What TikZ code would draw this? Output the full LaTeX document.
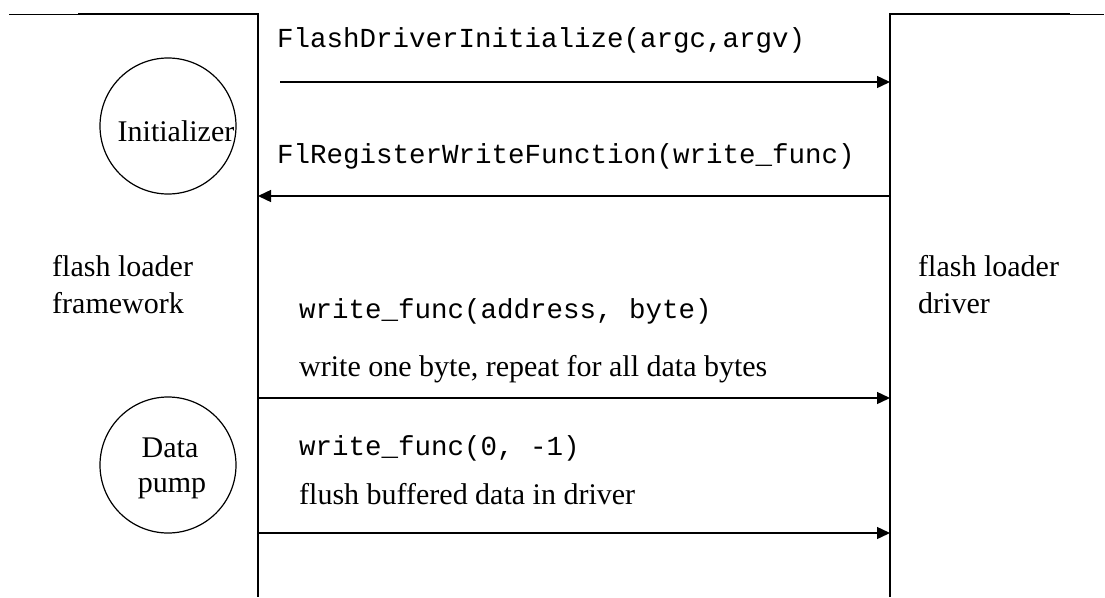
\documentclass[tikz,border=0pt]{standalone}
\usepackage{fontspec}
\setmainfont{Liberation Serif}
\setmonofont{Liberation Mono}
\usetikzlibrary{arrows.meta}

\tikzset{
  msg/.style={-{Triangle[length=13pt,width=12pt]}, line width=1.4pt},
  life/.style={line width=1.5pt},
  rim/.style={line width=0.9pt},
  call/.style={anchor=base west, inner sep=0pt, font=\fontsize{27.5}{30}\selectfont\ttfamily},
  note/.style={anchor=base west, inner sep=0pt, font=\fontsize{30}{37}\selectfont},
  role/.style={circle, draw, line width=1.2pt, minimum size=136pt, inner sep=0pt},
}

\begin{document}
\begin{tikzpicture}[x=1pt,y=-1pt]
    \useasboundingbox (0,0) rectangle (1105,597);

    % Define the two sides
    \draw[rim] (9,14) -- (78,14);
    \draw[life] (78,14) -- (258,14) -- (258,597);
    \draw[life] (890,597) -- (890,14) -- (1070,14);
    \draw[rim] (1070,14) -- (1104,14);

    \node[note] (fw1) at (52,276) {flash loader};
    \node[note] (fw2) at (52,313) {framework};
    \node[note] (drv1) at (918,276) {flash loader};
    \node[note] (drv2) at (918,313) {driver};

    % Define the circles
    \node[role] (init) at (168,126) {};
    \node[note, anchor=base] (initlbl) at (176,141) {Initializer};
    \node[role] (pump) at (168,465) {};
    \node[note, anchor=base] (pump1) at (170,457) {Data};
    \node[note, anchor=base] (pump2) at (172,492) {pump};

    % Define the end points of the messages
    \coordinate (m1s) at (280,82);   \coordinate (m1e) at (890,82);
    \coordinate (m2s) at (890,196);  \coordinate (m2e) at (258,196);
    \coordinate (m3s) at (258,398);  \coordinate (m3e) at (890,398);
    \coordinate (m4s) at (258,533);  \coordinate (m4e) at (890,533);

    % Draw the messages
    \draw[msg] (m1s) -- (m1e);
    \draw[msg] (m2s) -- (m2e);
    \draw[msg] (m3s) -- (m3e);
    \draw[msg] (m4s) -- (m4e);

    % Labels of the messages
    \node[call] (c1) at (277,47) {FlashDriverInitialize(argc,argv)};
    \node[call] (c2) at (277,163) {FlRegisterWriteFunction(write\_func)};
    \node[call] (c3) at (299,318) {write\_func(address, byte)};
    \node[note] (n3) at (299,376) {write one byte, repeat for all data bytes};
    \node[call] (c4) at (299,455) {write\_func(0, -1)};
    \node[note] (n4) at (299,504) {flush buffered data in driver};
\end{tikzpicture}
\end{document}
